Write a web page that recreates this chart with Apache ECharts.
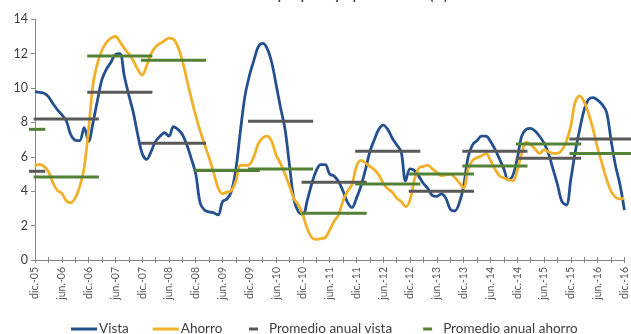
<!DOCTYPE html>
<html><head><meta charset="utf-8">
<script src="https://cdn.jsdelivr.net/npm/echarts@6/dist/echarts.min.js"></script>
<style>html,body{margin:0;padding:0;background:#fff}#c{width:631px;height:334px}</style>
</head><body><div id="c"></div>
<script>
// Tick labels (every 6 months, from dic.-05 to dic.-16)
const tickLabels = ['dic.-05','jun.-06','dic.-06','jun.-07','dic.-07','jun.-08','dic.-08','jun.-09','dic.-09','jun.-10','dic.-10','jun.-11','dic.-11','jun.-12','dic.-12','jun.-13','dic.-13','jun.-14','dic.-14','jun.-15','dic.-15','jun.-16','dic.-16'];

// Monthly series, dic.-05 .. dic.-16 (133 months)
const vista = [
 9.8,9.75,9.7,9.5,9.1,8.75,8.45,8.1,7.3,6.97,6.94,7.7,
 6.9,8.0,9.3,10.5,11.1,11.5,11.95,12.0,10.7,9.6,8.6,7.3,
 6.2,5.85,6.3,6.9,7.2,7.4,7.2,7.75,7.6,7.3,6.7,5.9,
 5.0,3.3,2.9,2.8,2.75,2.62,3.4,3.55,4.0,5.3,7.5,9.5,
 10.7,11.6,12.4,12.6,12.3,11.5,10.2,8.85,7.6,5.5,3.5,2.8,
 2.65,3.5,4.45,5.2,5.55,5.55,5.0,4.88,4.55,4.0,3.35,3.05,
 3.6,4.3,5.24,6.3,7.0,7.6,7.85,7.6,7.1,6.7,6.3,4.6,
 5.3,5.2,4.85,4.45,4.15,3.75,3.7,3.85,3.6,2.95,2.85,3.3,
 4.3,6.0,6.7,6.95,7.2,7.2,6.9,6.45,5.9,5.3,4.65,4.9,
 5.9,7.2,7.6,7.65,7.5,7.2,6.8,6.2,5.3,4.4,3.4,3.2,
 4.7,6.3,7.6,8.75,9.35,9.45,9.3,9.05,8.6,7.0,5.5,4.4,
 2.9
];
const ahorro = [
 5.47,5.56,5.45,5.15,4.5,4.05,3.88,3.45,3.33,3.6,4.25,5.35,
 7.6,10.2,11.45,12.2,12.65,12.9,13.0,12.7,12.3,12.0,11.6,11.1,
 10.75,11.3,12.0,12.4,12.6,12.75,12.9,12.85,12.4,11.6,10.5,9.4,
 8.4,7.5,6.7,5.95,5.1,4.2,3.85,3.95,4.03,4.6,5.5,5.5,
 5.55,6.0,6.75,7.1,7.2,6.9,6.1,5.6,5.0,4.3,3.55,3.2,
 2.6,1.8,1.3,1.2,1.25,1.3,1.75,2.25,2.65,3.45,4.0,4.4,
 5.45,5.8,5.65,5.45,5.25,4.95,4.45,4.15,3.95,3.6,3.4,3.1,
 3.5,4.7,5.35,5.45,5.5,5.3,5.1,4.9,4.95,5.0,4.8,4.5,
 4.2,5.3,5.8,5.95,6.05,6.2,5.8,5.3,4.9,4.77,4.68,4.6,
 5.2,6.2,6.85,6.7,6.45,6.2,6.4,6.3,6.2,6.2,6.4,6.9,
 7.8,9.2,9.55,9.2,8.5,7.6,6.5,5.6,4.7,4.0,3.65,3.55,
 3.6
];

// Annual averages
const years = [2005,2006,2007,2008,2009,2010,2011,2012,2013,2014,2015,2016];
const promVista  = [5.16,8.2,9.75,6.79,5.2,8.07,4.52,6.32,4.0,6.32,5.92,7.04];
const promAhorro = [7.6,4.83,11.87,11.62,5.22,5.29,2.72,4.42,5.0,5.47,6.75,6.2];

const BLUE='#25508f', GOLD='#f0b02a', GRAY='#595959', GREEN='#538135';
const HALF = 7.3;
const pairs = arr => arr.map((v,i)=>[i,v]);
const segData = arr => arr.map((v,k)=>[7 + 12*(years[k]-2006), v]);

function segRender(color){
  return function(params, api){
    const c = api.value(0), v = api.value(1);
    const p1 = api.coord([c-HALF, v]), p2 = api.coord([c+HALF, v]);
    const cs = params.coordSys;
    const x1 = Math.max(p1[0], cs.x-6), x2 = Math.min(p2[0], 631);
    return {type:'line', shape:{x1:x1,y1:p1[1],x2:x2,y2:p2[1]}, style:{stroke:color,lineWidth:3}};
  };
}

const chart = echarts.init(document.getElementById('c'), null, {renderer:'canvas'});
const FONT = 'Lato, "Noto Sans", sans-serif';
chart.setOption({
  animation:false,
  backgroundColor:'#fff',
  title:{text:'Tasas de interés por plazo y tipo de ahorro (%)', left:'center', top:-16,
    textStyle:{fontSize:13,fontWeight:'bold',color:'#404040',fontFamily:FONT}},
  grid:{left:35,right:6.6,top:19.3,bottom:74,containLabel:false},
  xAxis:[{
    type:'value',min:0,max:132,interval:3,
    axisLine:{show:true,lineStyle:{color:'#868686',width:1}},
    axisTick:{show:true,length:3,lineStyle:{color:'#868686'}},
    splitLine:{show:false},
    axisLabel:{rotate:90,fontSize:10.5,color:'#595959',fontFamily:FONT,margin:7,
      formatter:v=> (v%6===0 ? tickLabels[v/6] : '')}
  },{
    type:'value',min:0,max:132,interval:3,position:'bottom',
    axisLine:{show:false},axisLabel:{show:false},splitLine:{show:false},
    axisTick:{show:true,inside:true,length:3,lineStyle:{color:'#868686'}}
  }],
  yAxis:{type:'value',min:0,max:14,interval:2,
    axisLine:{show:true,lineStyle:{color:'#868686'}},
    axisTick:{show:true,length:4,lineStyle:{color:'#868686'}},
    splitLine:{show:false},
    axisLabel:{fontSize:12.5,color:'#404040',fontFamily:FONT,margin:7}},
  legend:[{
    left:66,top:317,itemWidth:26,itemHeight:3,itemGap:24,icon:'rect',
    textStyle:{fontSize:13.5,color:'#404040',fontFamily:FONT,padding:[0,0,0,-3]},
    data:['Vista','Ahorro']
  },{
    left:244,top:317,itemWidth:9,itemHeight:3,itemGap:31,icon:'rect',
    textStyle:{fontSize:13.5,color:'#404040',fontFamily:FONT,padding:[0,0,0,6]},
    data:['Promedio anual vista','Promedio anual ahorro']
  }],
  series:[
    {name:'Vista',type:'line',data:pairs(vista),showSymbol:false,smooth:0.35,
      lineStyle:{color:BLUE,width:2.8},itemStyle:{color:BLUE},z:2},
    {name:'Ahorro',type:'line',data:pairs(ahorro),showSymbol:false,smooth:0.35,
      lineStyle:{color:GOLD,width:2.8},itemStyle:{color:GOLD},z:3},
    {name:'Promedio anual vista',type:'custom',data:segData(promVista),
      renderItem:segRender(GRAY),itemStyle:{color:GRAY},z:4,clip:false},
    {name:'Promedio anual ahorro',type:'custom',data:segData(promAhorro),
      renderItem:segRender(GREEN),itemStyle:{color:GREEN},z:5,clip:false}
  ]
});
</script></body></html>
